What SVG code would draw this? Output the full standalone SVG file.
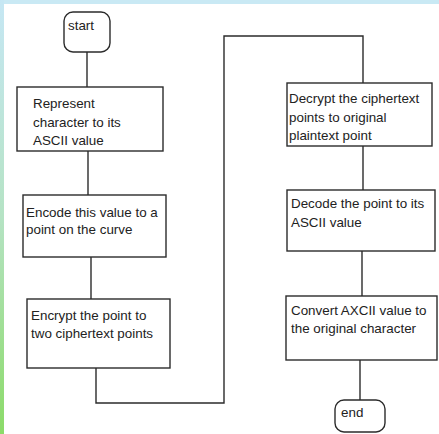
<svg xmlns="http://www.w3.org/2000/svg" width="439" height="434" viewBox="0 0 439 434">
<defs>
<linearGradient id="side" x1="0" y1="0" x2="0" y2="1">
<stop offset="0" stop-color="#c6e7f4"/>
<stop offset="0.5" stop-color="#b5e3c4"/>
<stop offset="1" stop-color="#8bdb68"/>
</linearGradient>
<style>
.b{fill:#fff;stroke:#2b2b2b;stroke-width:1.4}
.c{fill:none;stroke:#2b2b2b;stroke-width:1.4}
text{font-family:"Liberation Sans",Arial,sans-serif;font-size:13.4px;fill:#222}
</style>
</defs>
<rect x="0" y="0" width="439" height="434" fill="#fff"/>
<rect x="0" y="0" width="439" height="4" fill="#c9e9f4"/>
<rect x="0" y="0" width="4" height="434" fill="url(#side)"/>
<g id="connectors">
<path class="c" d="M87 52V87"/>
<path class="c" d="M88 151V195"/>
<path class="c" d="M91 257V299"/>
<path class="c" d="M96 368V403H224V36H363V83"/>
<path class="c" d="M363 146V190"/>
<path class="c" d="M362 251V296"/>
<path class="c" d="M360 360V400"/>
</g>
<g id="start"><rect class="b" x="64" y="12" width="46" height="40" rx="9"/><text x="68" y="30">start</text></g>
<g id="n1"><rect class="b" x="17" y="87" width="146" height="64"/><text x="33" y="108">Represent</text><text x="33" y="127">character to its</text><text x="33" y="145">ASCII value</text></g>
<g id="n2"><rect class="b" x="23" y="195" width="143" height="62"/><text x="26" y="217">Encode this value to a</text><text x="26" y="234">point on the curve</text></g>
<g id="n3"><rect class="b" x="27" y="299" width="143" height="69"/><text x="31" y="320">Encrypt the point to</text><text x="31" y="338">two ciphertext points</text></g>
<g id="n4"><rect class="b" x="287" y="83" width="145" height="63"/><text x="289" y="103">Decrypt the ciphertext</text><text x="289" y="122">points to original</text><text x="289" y="140">plaintext point</text></g>
<g id="n5"><rect class="b" x="287" y="190" width="148" height="61"/><text x="291" y="208">Decode the point to its</text><text x="291" y="227">ASCII value</text></g>
<g id="n6"><rect class="b" x="286" y="296" width="151" height="64"/><text x="291" y="315">Convert AXCII value to</text><text x="291" y="333">the original character</text></g>
<g id="end"><rect class="b" x="335" y="400" width="50" height="32" rx="9"/><text x="341" y="417">end</text></g>
</svg>
